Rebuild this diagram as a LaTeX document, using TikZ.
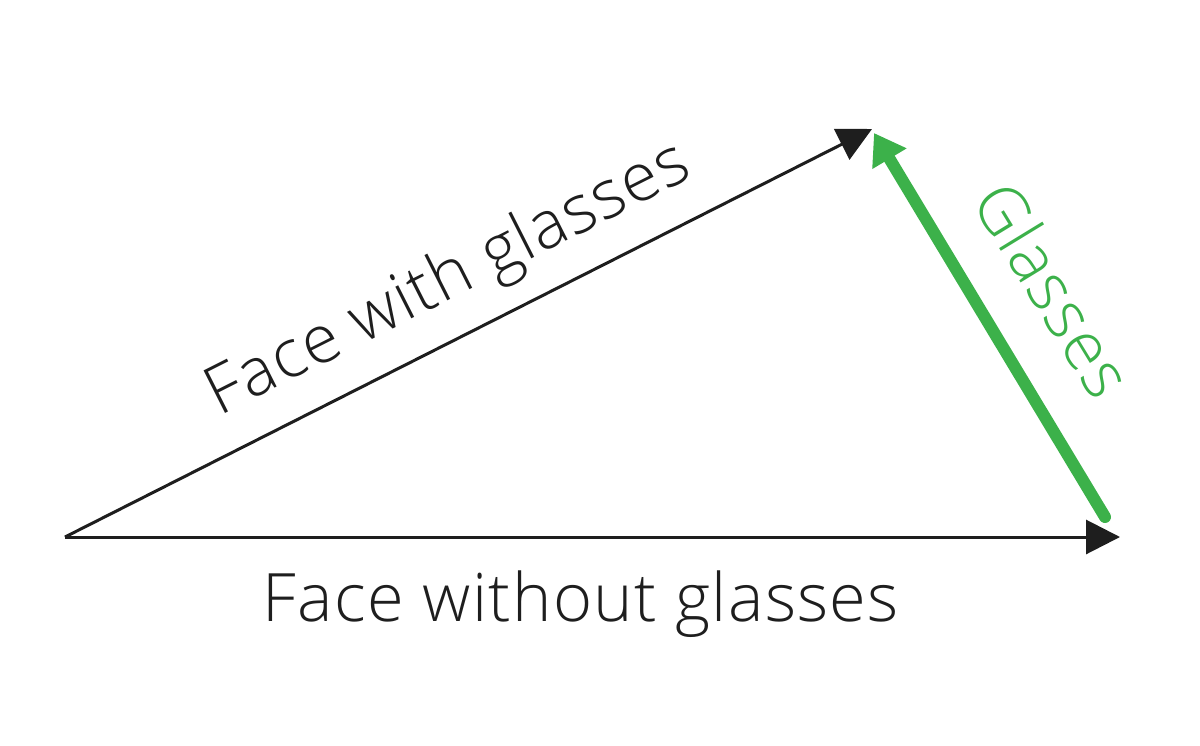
\documentclass[tikz,border=0pt]{standalone}
\usepackage{fontspec}
\setmainfont{Open Sans Light}[LetterSpace=2]
\usepackage{tikz}
\usetikzlibrary{arrows.meta}
\usetikzlibrary{calc,positioning}
\definecolor{vecblack}{HTML}{1E1E1E}
\definecolor{vecgreen}{HTML}{3CB14A}
\tikzset{
  vec/.style={draw=vecblack,line width=0.06cm,-{Triangle[length=0.68cm,width=0.68cm]}},
  glassvec/.style={draw=vecgreen,line width=0.24cm,line cap=round,-{Triangle[length=0.6cm,width=0.76cm]}},
  lbl/.style={font=\fontsize{38}{44}\selectfont,text=vecblack}
}
\begin{document}
\begin{tikzpicture}
  \useasboundingbox (0,0) rectangle (24,-14.9);
  \coordinate (origin) at (1.3,-10.74);
  \coordinate (without) at (22.4,-10.74);
  \coordinate (with) at (17.44,-2.58);
  \coordinate (gstart) at (22.1,-10.34);
  \coordinate (gtip) at (17.48,-2.66);
  \draw[vec] (origin) -- (without);
  \draw[vec] (origin) -- (with);
  \draw[glassvec] (gstart) -- (gtip);
  \node[lbl] (withoutlbl) at (11.62,-12.08) {Face without glasses};
  \node[lbl,rotate=26.8] (withlbl) at (8.98,-5.62) {Face with glasses};
  \node[lbl,text=vecgreen,rotate=-58.6] (glasslbl) at (21.08,-5.78) {Glasses};
\end{tikzpicture}
\end{document}
